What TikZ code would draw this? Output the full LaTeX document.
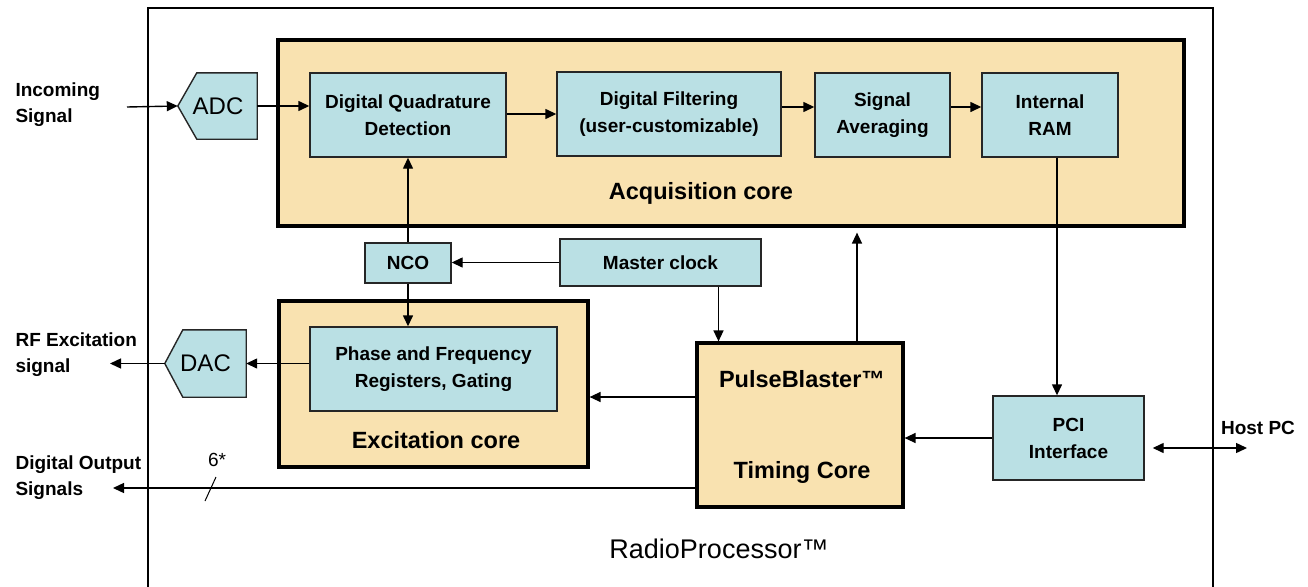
\documentclass[tikz,border=0pt]{standalone}
\usepackage{fontspec}
\setmainfont{Liberation Sans}
\usetikzlibrary{arrows.meta,calc}
\definecolor{boxc}{RGB}{186,224,228}
\definecolor{corec}{RGB}{249,226,176}
\begin{document}
\begin{tikzpicture}[x=1pt,y=-1pt,
  lbl/.style={font=\fontsize{19}{27}\selectfont\bfseries, align=center},
  blk/.style={draw=black!85, line width=1.4pt, fill=boxc, lbl, inner sep=0pt},
  shp/.style={draw=black!85, line width=1.4pt, fill=boxc},
  core/.style={draw=black, line width=3.2pt, fill=corec, inner sep=0pt},
  corelbl/.style={font=\fontsize{23.5}{28}\selectfont\bfseries},
  big/.style={font=\fontsize{24}{28}\selectfont},
  ext/.style={font=\fontsize{19}{26}\selectfont\bfseries, align=left, anchor=west},
  arr/.style={-{Triangle[length=11pt,width=10pt]}, line width=1.4pt},
  darr/.style={{Triangle[length=11pt,width=10pt]}-{Triangle[length=11pt,width=10pt]}, line width=1.4pt}]
\useasboundingbox (0,0) rectangle (1308,586);
\fill[white] (0,0) rectangle (1308,586);
% outer frame
\draw[line width=2.2pt] (148,600) -- (148,8) -- (1213,8) -- (1213,600);
% cores
\node[core, minimum width=906pt, minimum height=186pt] (acq) at (731,133) {};
\node[corelbl] (acqlbl) at (701,193) {Acquisition core};
\node[core, minimum width=309pt, minimum height=166pt] (exc) at (433.5,384) {};
\node[corelbl] (exclbl) at (436,440) {Excitation core};
\node[core, minimum width=206pt, minimum height=164pt] (pb) at (800,425) {};
\node[corelbl] (pblbl1) at (802,379) {PulseBlaster™};
\node[corelbl] (pblbl2) at (802,472) {Timing Core};
% blocks
\node[blk, minimum width=196pt, minimum height=84pt] (dqd) at (408,115) {Digital Quadrature\\Detection};
\node[blk, minimum width=224pt, minimum height=84pt] (df) at (669,114) {Digital Filtering\\(user-customizable)};
\node[blk, minimum width=135pt, minimum height=84pt] (sa) at (882.5,115) {Signal\\Averaging};
\node[blk, minimum width=136pt, minimum height=84pt] (ram) at (1050,115) {Internal\\RAM};
\node[blk, minimum width=86pt, minimum height=40pt] (nco) at (408,263) {NCO};
\node[blk, minimum width=201pt, minimum height=47pt] (master) at (660.5,262.5) {Master clock};
\node[blk, minimum width=247pt, minimum height=84pt] (phase) at (433.5,369) {Phase and Frequency\\Registers, Gating};
\node[blk, minimum width=151pt, minimum height=84pt] (pci) at (1068.5,438) {PCI\\Interface};
% ADC
\node[inner sep=0pt, minimum width=60pt, minimum height=66pt] (adc) at (227,106) {};
\coordinate (adctip) at ($(adc.west)+(-19,0)$);
\draw[shp] (adc.north west) -- (adc.north east) -- (adc.south east) -- (adc.south west) -- (adctip) -- cycle;
\node[big] (adctxt) at ($(adc.center)+(-9,0)$) {ADC};
% DAC
\node[inner sep=0pt, minimum width=63pt, minimum height=67pt] (dac) at (214.5,363.5) {};
\coordinate (dactip) at ($(dac.west)+(-18,0)$);
\draw[shp] (dac.north west) -- (dac.north east) -- (dac.south east) -- (dac.south west) -- (dactip) -- cycle;
\node[big] (dactxt) at ($(dac.center)+(-9,0)$) {DAC};
% external labels
\node[ext] (inlbl) at (12,105) {Incoming\\Signal};
\node[ext] (rflbl) at (12,355) {RF Excitation\\signal};
\node[ext] (dolbl) at (12,478) {Digital Output\\Signals};
\node[font=\fontsize{19}{26}\selectfont\bfseries] (hostlbl) at (1258,428) {Host PC};
\node[font=\fontsize{27}{32}\selectfont] (rplbl) at (719,549) {RadioProcessor™};
\node[font=\fontsize{19}{24}\selectfont] (sixlbl) at (217,460) {6*};
% connectors
\coordinate (incoming) at (127,107);
\draw[arr] (incoming) -- (adctip);
\draw[arr] (adc.east) -- (adc.east -| dqd.west);
\draw[arr] ([yshift=1pt]dqd.east) -- ([yshift=1pt]dqd.east -| df.west);
\draw[arr] ([yshift=7pt]df.east) -- ([yshift=7pt]df.east -| sa.west);
\draw[arr] ([yshift=8pt]sa.east) -- ([yshift=8pt]sa.east -| ram.west);
\draw[arr] (master.west) -- (master.west -| nco.east);
\draw[arr] (nco.north) -- (nco.north |- dqd.south);
\draw[arr] (nco.south) -- (nco.south |- phase.north);
\draw[arr] ([xshift=58pt]master.south) -- ([xshift=58pt]master.south |- pb.north);
\draw[arr, shorten >=5pt] ([xshift=57pt]pb.north) -- ([xshift=57pt]pb.north |- acq.south);
\draw[arr] ([yshift=28pt]pb.west) coordinate (pbx) -- (pbx -| exc.east);
\coordinate (dout) at (113,488);
\draw[arr] ([yshift=-63pt]pb.west) -- (dout);
\draw[line width=1pt] (205,501) -- (216,477);
\draw[arr] (dac.east -| phase.west) -- (dac.east);
\coordinate (rfout) at (110,363.5);
\draw[arr] (dactip) -- (rfout);
\draw[arr] ([xshift=7pt]ram.south) coordinate (ramx) -- (ramx |- pci.north);
\draw[arr] (pci.west) -- (pci.west -| pb.east);
\coordinate (host) at (1247,448);
\draw[darr] ([xshift=8pt,yshift=-10pt]pci.east) -- (host);
\end{tikzpicture}
\end{document}
